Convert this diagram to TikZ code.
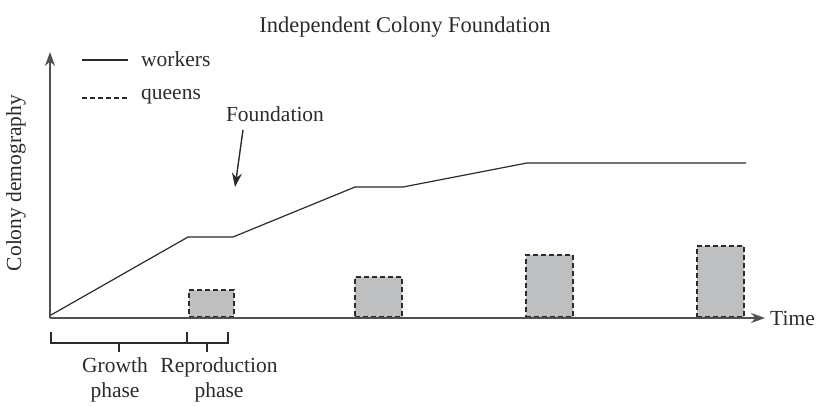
\documentclass[tikz,border=0pt]{standalone}
\usepackage{fontspec}
\setmainfont{Liberation Serif}
\usetikzlibrary{arrows.meta}
\definecolor{ink}{HTML}{2B2B2B}
\definecolor{axisgray}{HTML}{505050}
\definecolor{boxfill}{HTML}{BDBFC1}
\tikzset{
  lbl/.style={font=\fontsize{21.5}{25}\selectfont, text=ink, inner sep=0pt},
  axisline/.style={draw=axisgray, line width=1.7pt, -{Stealth[length=14pt,width=10pt]}},
  workline/.style={draw=ink, line width=1.2pt},
  queenbox/.style={fill=boxfill, draw=ink, line width=1.7pt, dash pattern=on 5pt off 3pt},
  bracket/.style={draw=ink, line width=1.1pt},
  pointer/.style={draw=ink, line width=1.4pt, -{Stealth[length=14pt,width=10pt]}}
}
\begin{document}
\begin{tikzpicture}[x=1pt,y=-1pt]
  \useasboundingbox (0,0) rectangle (818,406);

  % title
  \node[lbl, font=\fontsize{22.5}{26}\selectfont] (title) at (405,27) {Independent Colony Foundation};

  % axes
  \coordinate (o) at (50,318);
  \coordinate (ytip) at (50,52);
  \coordinate (xtip) at (765,318);
  \draw[axisline] (o) -- (ytip);
  \draw[axisline] (o) -- (xtip);
  \node[lbl, anchor=west] (time) at (770,318) {Time};
  \node[lbl, rotate=90] (ylab) at (16,183) {Colony demography};

  % legend
  \coordinate (l1a) at (82,60);  \coordinate (l1b) at (128,60);
  \coordinate (l2a) at (82,98);  \coordinate (l2b) at (128,98);
  \draw[workline] (l1a) -- (l1b);
  \draw[draw=ink, line width=1.2pt, dash pattern=on 5pt off 3pt] (l2a) -- (l2b);
  \node[lbl, anchor=west] (lw) at (141,59) {workers};
  \node[lbl, anchor=west] (lq) at (141,97) {queens};

  % queen production bouts
  \node[queenbox, minimum width=45pt, minimum height=27pt, anchor=south west, inner sep=0pt] (q1) at (188,318) {};
  \node[queenbox, minimum width=47pt, minimum height=40pt, anchor=south west, inner sep=0pt] (q2) at (354,318) {};
  \node[queenbox, minimum width=47pt, minimum height=62pt, anchor=south west, inner sep=0pt] (q3) at (525,318) {};
  \node[queenbox, minimum width=47pt, minimum height=71pt, anchor=south west, inner sep=0pt] (q4) at (696,318) {};
  \draw[axisgray, line width=1.7pt] (o) -- (758,318);

  % worker numbers
  \coordinate (w0) at (51,315);
  \coordinate (w1) at (188,237);
  \coordinate (w2) at (233,237);
  \coordinate (w3) at (355,187);
  \coordinate (w4) at (403,187);
  \coordinate (w5) at (527,163);
  \coordinate (w6) at (746,163);
  \draw[workline] (w0) -- (w1) -- (w2) -- (w3) -- (w4) -- (w5) -- (w6);

  % foundation pointer
  \node[lbl] (found) at (275,114) {Foundation};
  \coordinate (fs) at (243,130);
  \coordinate (fp) at (235,187);
  \draw[pointer] (fs) -- (fp);

  % phase brackets
  \coordinate (b0) at (51,332);
  \coordinate (b1) at (187,332);
  \coordinate (b2) at (228,332);
  \draw[bracket] (b0) -- ++(0,11) -| (b1) (b1) ++(0,11) -| (b2);
  \draw[bracket] (119,343) -- (119,352);
  \draw[bracket] (207,343) -- (207,352);
  \node[lbl, align=center] (growth) at (115,380) {Growth\\phase};
  \node[lbl, align=center] (repro) at (219,380) {Reproduction\\phase};
\end{tikzpicture}
\end{document}
